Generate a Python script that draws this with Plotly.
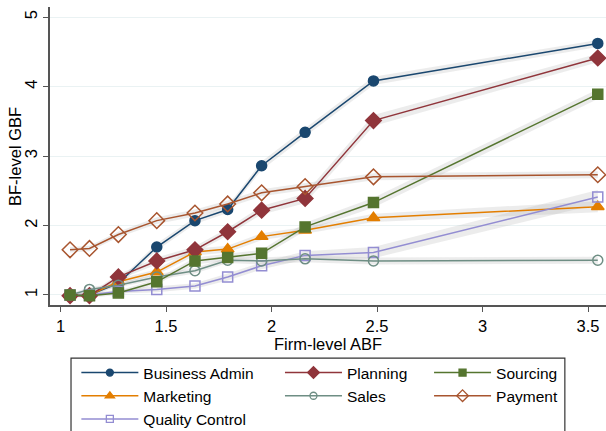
import plotly.graph_objects as go

firm_abf = [1.045, 1.137, 1.274, 1.456, 1.637, 1.792, 1.953, 2.159, 2.483, 3.546]

business_admin = [1.00, 1.00, 1.17, 1.69, 2.07, 2.23, 2.86, 3.34, 4.08, 4.62]
planning = [0.99, 0.99, 1.26, 1.49, 1.65, 1.91, 2.22, 2.39, 3.51, 4.41]
sourcing = [1.00, 0.99, 1.03, 1.19, 1.49, 1.54, 1.60, 1.98, 2.33, 3.89]
marketing = [1.00, 1.00, 1.19, 1.33, 1.62, 1.66, 1.84, 1.93, 2.11, 2.27]
sales = [1.00, 1.08, 1.14, 1.26, 1.35, 1.50, 1.49, 1.52, 1.49, 1.50]
payment = [1.65, 1.67, 1.87, 2.07, 2.18, 2.31, 2.47, 2.56, 2.70, 2.73]
quality_control = [1.00, 1.00, 1.05, 1.08, 1.13, 1.26, 1.42, 1.57, 1.61, 2.41]

ci_business_admin = [0.02, 0.03, 0.04, 0.05, 0.05, 0.05, 0.06, 0.06, 0.06, 0.05]
ci_planning = [0.02, 0.03, 0.04, 0.05, 0.05, 0.05, 0.06, 0.07, 0.08, 0.06]
ci_sourcing = [0.02, 0.03, 0.03, 0.04, 0.05, 0.05, 0.05, 0.06, 0.07, 0.07]
ci_marketing = [0.02, 0.03, 0.04, 0.04, 0.05, 0.05, 0.05, 0.05, 0.06, 0.08]
ci_sales = [0.02, 0.03, 0.03, 0.04, 0.04, 0.04, 0.05, 0.05, 0.05, 0.05]
ci_payment = [0.04, 0.04, 0.04, 0.05, 0.05, 0.05, 0.05, 0.05, 0.05, 0.05]
ci_quality_control = [0.02, 0.02, 0.03, 0.04, 0.04, 0.05, 0.05, 0.06, 0.08, 0.10]

x_ticks = [1, 1.5, 2, 2.5, 3, 3.5]
y_ticks = [1, 2, 3, 4, 5]

series = [
    ("Business Admin", business_admin, ci_business_admin, "#1a476f", "circle", 10, "legend"),
    ("Marketing", marketing, ci_marketing, "#e37e00", "triangle-up", 11, "legend"),
    ("Quality Control", quality_control, ci_quality_control, "#938dd2", "square-open", 10, "legend"),
    ("Planning", planning, ci_planning, "#90353b", "diamond", 12, "legend2"),
    ("Sales", sales, ci_sales, "#6e8e84", "circle-open", 10, "legend2"),
    ("Sourcing", sourcing, ci_sourcing, "#55752f", "square", 10, "legend3"),
    ("Payment", payment, ci_payment, "#a8552f", "diamond-open", 12, "legend3"),
]

FONT = "Arial, Liberation Sans, sans-serif"
fig = go.Figure()

# confidence bands
for name, y, ci, color, sym, size, lg in series:
    upper = [v + c for v, c in zip(y, ci)]
    lower = [v - c for v, c in zip(y, ci)]
    fig.add_trace(go.Scatter(
        x=firm_abf + firm_abf[::-1], y=upper + lower[::-1],
        fill="toself", fillcolor="rgba(170,170,170,0.22)",
        line=dict(width=0), mode="lines", showlegend=False, hoverinfo="skip"))

# lines and markers
for name, y, ci, color, sym, size, lg in series:
    fig.add_trace(go.Scatter(
        x=firm_abf, y=y, mode="lines+markers", name=name, showlegend=False,
        line=dict(color=color, width=1.5),
        marker=dict(symbol=sym, size=size, color=color,
                    line=dict(color=color, width=1.5))))

# legend-only entries
for name, y, ci, color, sym, size, lg in series:
    fig.add_trace(go.Scatter(
        x=[None], y=[None], mode="lines+markers", name=name, legend=lg,
        line=dict(color=color, width=1.5),
        marker=dict(symbol=sym, size=max(size - 3, 6), color=color,
                    line=dict(color=color, width=1.3))))

legend_common = dict(font=dict(family=FONT, size=15.5, color="#000"),
                     bgcolor="rgba(0,0,0,0)", borderwidth=0, itemwidth=57,
                     orientation="v", xanchor="left", yanchor="top",
                     xref="container", yref="container",
                     tracegroupgap=0, itemclick=False)

fig.update_layout(
    width=606, height=431,
    margin=dict(l=50, r=0, t=7, b=126, autoexpand=False),
    paper_bgcolor="white", plot_bgcolor="white",
    font=dict(family=FONT, size=16.5, color="#000"),
    xaxis=dict(range=[0.95, 3.585], tickvals=x_ticks, ticks="outside", ticklen=5,
               tickcolor="#555", showline=True, linecolor="#555", linewidth=1.5,
               showgrid=False, zeroline=False, tickfont=dict(size=16.5),
               title=dict(text="Firm-level ABF", standoff=2, font=dict(size=16.5))),
    yaxis=dict(range=[0.856, 5.144], tickvals=y_ticks, ticks="outside", ticklen=5,
               tickcolor="#555", showline=True, linecolor="#555", linewidth=1.5,
               showgrid=True, gridcolor="#eaf2f3", gridwidth=1, zeroline=False,
               tickangle=-90, tickfont=dict(size=16.5)),
    legend=dict(x=0.126, y=0.174, **legend_common),
    legend2=dict(x=0.462, y=0.174, **legend_common),
    legend3=dict(x=0.708, y=0.174, **legend_common),
    showlegend=True,
    annotations=[dict(text="BF-level GBF", xref="paper", yref="paper",
                      x=-0.063, y=0.5, xanchor="center", yanchor="middle",
                      textangle=-90, showarrow=False,
                      font=dict(family=FONT, size=16.5, color="#000"))],
    shapes=[dict(type="rect", xref="paper", yref="paper", x0=0.0378, x1=0.926,
                 y0=-0.6, y1=-0.178, line=dict(color="#333", width=1.2),
                 fillcolor="rgba(0,0,0,0)")],
)

fig.write_html("out.html")
